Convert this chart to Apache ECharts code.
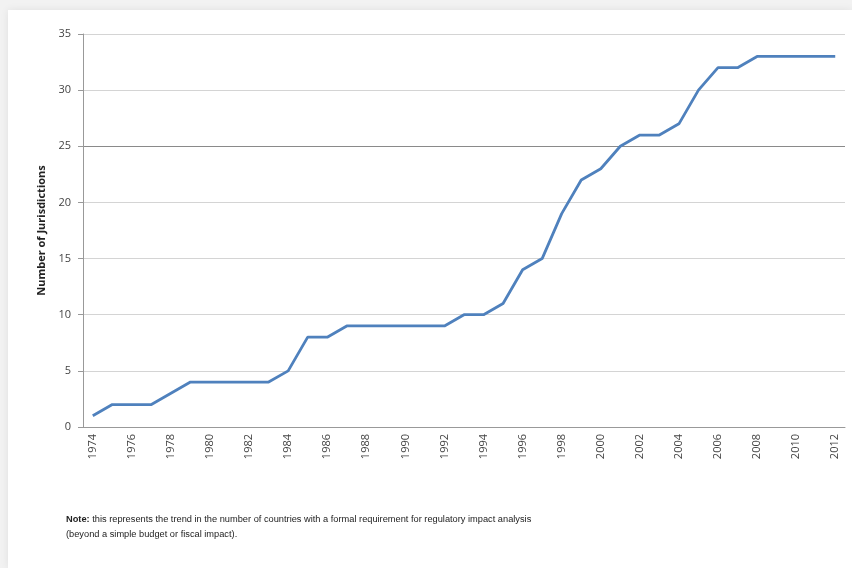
<!DOCTYPE html>
<html>
<head>
<meta charset="utf-8">
<script src="https://cdn.jsdelivr.net/npm/echarts@6/dist/echarts.min.js"></script>
<style>
html,body{margin:0;padding:0;width:852px;height:568px;background:#f2f2f2;overflow:hidden;}
#card{position:absolute;left:8px;top:10px;width:844px;height:558px;background:#fff;box-shadow:0 0 8px rgba(0,0,0,0.08);}
#chart{position:absolute;left:0;top:0;width:852px;height:568px;}
</style>
</head>
<body>
<div id="card"></div>
<div id="chart"></div>
<script>
const years = [];
for (let y = 1974; y <= 2012; y++) years.push(String(y));
const jurisdictions = [1,2,2,2,3,4,4,4,4,4,5,8,8,9,9,9,9,9,9,10,10,11,14,15,19,22,23,25,26,26,27,30,32,32,33,33,33,33,33];
const yAxisName = 'Number of Jurisdictions';
const noteBold = 'Note:';
const noteLine1 = ' this represents the trend in the number of countries with a formal requirement for regulatory impact analysis';
const noteLine2 = '(beyond a simple budget or fiscal impact).';

const chart = echarts.init(document.getElementById('chart'));
const grid = '#d4d4d4';
chart.setOption({
  backgroundColor: 'transparent',
  animation: false,
  grid: {left: 83, right: 7, top: 34, bottom: 141},
  xAxis: {
    type: 'category',
    data: years,
    boundaryGap: true,
    axisLine: {lineStyle: {color: '#999', width: 1}},
    axisTick: {show: false},
    axisLabel: {rotate: 90, interval: 1, fontSize: 11, color: '#444', fontFamily: 'Open Sans', margin: 7}
  },
  yAxis: {
    type: 'value',
    min: 0, max: 35, interval: 5,
    name: yAxisName,
    nameLocation: 'middle',
    nameGap: 35,
    nameTextStyle: {fontSize: 11, fontWeight: 'bold', color: '#222', fontFamily: 'Open Sans'},
    axisLine: {show: true, lineStyle: {color: '#999'}},
    axisTick: {show: true, length: 5, lineStyle: {color: '#999'}},
    axisLabel: {fontSize: 11, color: '#444', fontFamily: 'Open Sans', margin: 12},
    splitLine: {lineStyle: {color: [grid, grid, grid, grid, grid, '#8a8a8a', grid, grid], width: 1.2}}
  },
  series: [{
    type: 'line',
    data: jurisdictions,
    showSymbol: false,
    lineStyle: {color: '#4f81bd', width: 2.8},
    itemStyle: {color: '#4f81bd'}
  }],
  graphic: [{
    type: 'text',
    left: 66, top: 515,
    style: {
      text: '{b|' + noteBold + '}{n|' + noteLine1 + '}\n{n|' + noteLine2 + '}',
      fill: '#222',
      rich: {
        b: {font: 'bold 9.25px "Liberation Sans", Arial, sans-serif', fill: '#222', lineHeight: 15},
        n: {font: '9.25px "Liberation Sans", Arial, sans-serif', fill: '#222', lineHeight: 15}
      }
    }
  }]
});
</script>
</body>
</html>
